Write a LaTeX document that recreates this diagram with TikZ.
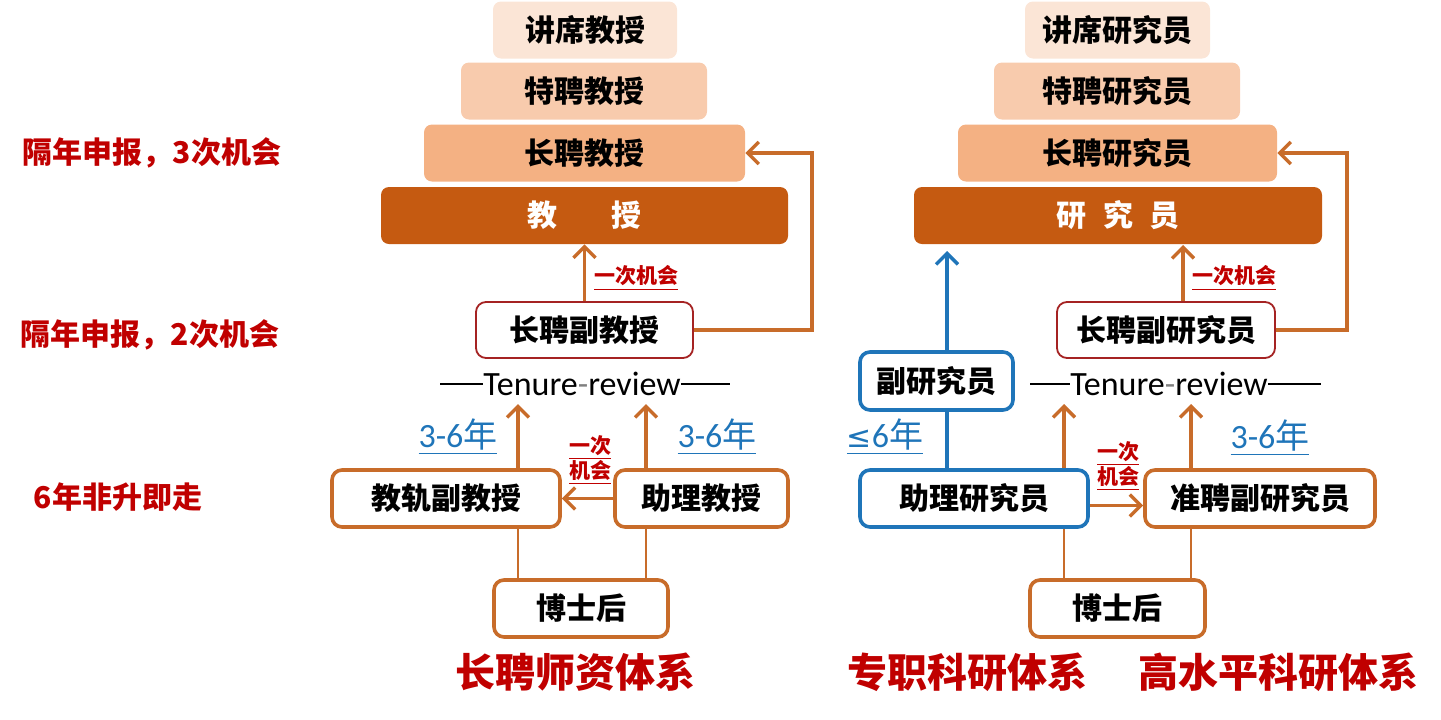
\documentclass[tikz,border=0pt]{standalone}
\usepackage{fontspec}
\setmainfont{Carlito}
\newfontfamily\cjk{Noto Sans CJK SC}
\newfontfamily\symb{DejaVu Sans}
\usetikzlibrary{arrows.meta}
\definecolor{rust}{RGB}{197,90,17}
\definecolor{ochre}{RGB}{200,108,42}
\definecolor{peach1}{RGB}{251,229,214}
\definecolor{peach2}{RGB}{248,203,173}
\definecolor{peach3}{RGB}{244,177,131}
\definecolor{redtxt}{RGB}{192,0,0}
\definecolor{bluetxt}{RGB}{31,117,185}
\definecolor{tenred}{RGB}{165,35,35}
\tikzset{
    every node/.style={inner sep=0pt, font=\cjk\bfseries\fontsize{15pt}{18pt}\selectfont}
}
\tikzset{
    tier/.style={rounded corners=4pt, minimum height=28.5pt},
    post/.style={draw=ochre, line width=1.8pt, rounded corners=5pt, fill=white,
    	minimum height=28.5pt},
    bluepost/.style={post, draw=bluetxt},
    tenured/.style={draw=tenred, line width=0.9pt, rounded corners=5pt, minimum height=28pt},
    note/.style={text=redtxt},
    small/.style={text=redtxt, align=center,
    	font=\cjk\bfseries\fontsize{10.5pt}{12pt}\selectfont},
    years/.style={text=bluetxt, font=\fontsize{17pt}{20pt}\selectfont},
    title/.style={text=redtxt, font=\cjk\bfseries\fontsize{20pt}{24pt}\selectfont},
    review/.style={font=\fontsize{17pt}{20pt}\selectfont}
}
\tikzset{
    link/.style={draw=ochre, line width=1.7pt},
    every edge/.append style={link},
    arr/.style={-{Straight Barb[length=5.5pt,width=11pt]}}
}

\begin{document}
\begin{tikzpicture}[x=0.5pt,y=-0.5pt]
	\useasboundingbox (0,0) rectangle (1441,719);

	% left column labels
	\node (n3) [note] at (152,153) {隔年申报，3次机会};
	\node (n2) [note] at (150,335) {隔年申报，2次机会};
	\node (n6) [note] at (118,497) {6年非升即走};

	% faculty track
	\node (jxjs) [tier, fill=peach1, minimum width=92pt] at (585,30) {讲席教授};
	\node (tpjs) [tier, fill=peach2, minimum width=123pt] at (584,91) {特聘教授};
	\node (cpjs) [tier, fill=peach3, minimum width=160.5pt] at (584.5,153) {长聘教授};
	\node (js) [tier, fill=rust, text=white, minimum width=203.5pt] at (584.5,215.5) {教\hspace{1.8em}授};
	\node (cpfjs) [tenured, minimum width=108.5pt] at (584.5,330) {长聘副教授};
	\node (tr1) [review] at (582,384) {Tenure{\color{gray}-}review};
	\node (jgfjs) [post, minimum width=114pt] at (446,498.5) {教轨副教授};
	\node (zljs) [post, minimum width=86.5pt] at (701.5,498.5) {助理教授};
	\node (bsh1) [post, minimum width=87pt] at (581,608.5) {博士后};
	\node (ttl1) [title] at (575,672) {长聘师资体系};

	\node (op1) [small] at (636,278) {\underline{一次机会}};
	\node (op2) [small] at (590,460) {\underline{一次}\\[-1pt]\underline{机会}};
	\node (y1) [years] at (458,437) {\underline{3-6{\cjk 年}}};
	\node (y2) [years] at (717,437) {\underline{3-6{\cjk 年}}};

	\coordinate (tr1a) at (440,384);
	\coordinate (tr1b) at (730,384);
	\coordinate (t1) at (518,404);
	\coordinate (t2) at (646,404);
	\coordinate (c1) at (812,153);

	\draw[line width=0.8pt] (tr1a) -- (tr1.west) (tr1.east) -- (tr1b);
	\draw (cpfjs) edge[arr] (js);
	\draw[link, arr] (cpfjs.east) -| (c1) -- (cpjs.east);
	\draw (jgfjs.north -| t1) edge[arr] (t1); \draw (zljs.north -| t2) edge[arr] (t2);
	\draw (zljs) edge[arr] (jgfjs);
	\draw (bsh1.north -| t1) edge[line width=1.3pt] (jgfjs.south -| t1);
	\draw (bsh1.north -| t2) edge[line width=1.3pt] (zljs.south -| t2);

	% research track
	\node (jxyjy) [tier, fill=peach1, minimum width=92.5pt] at (1117.5,30) {讲席研究员};
	\node (tpyjy) [tier, fill=peach2, minimum width=123pt] at (1117,91) {特聘研究员};
	\node (cpyjy) [tier, fill=peach3, minimum width=159.5pt] at (1117.5,153) {长聘研究员};
	\node (yjy) [tier, fill=rust, text=white, minimum width=204pt] at (1118,215.5) {研\hspace{0.55em}究\hspace{0.55em}员};
	\node (fyjy) [bluepost, minimum width=76.5pt, minimum height=29pt] at (936.5,381) {副研究员};
	\node (cpfyjy) [tenured, minimum width=109pt] at (1166,330) {长聘副研究员};
	\node (tr2) [review] at (1169,384) {Tenure{\color{gray}-}review};
	\node (zlyjy) [bluepost, minimum width=114pt] at (974,498.5) {助理研究员};
	\node (zpfyjy) [post, minimum width=115pt] at (1260,498.5) {准聘副研究员};
	\node (bsh2) [post, minimum width=87.5pt] at (1117.5,608.5) {博士后};
	\node (ttl2) [title] at (967,672) {专职科研体系};
	\node (ttl3) [title] at (1278,672) {高水平科研体系};

	\node (op3) [small] at (1234,278) {\underline{一次机会}};
	\node (op4) [small] at (1118,466) {\underline{一次}\\[-1pt]\underline{机会}};
	\node (y3) [years] at (885,437) {\underline{{\symb\fontsize{15pt}{18pt}\selectfont ≤}6{\cjk 年}}};
	\node (y4) [years] at (1270,438) {\underline{3-6{\cjk 年}}};

	\coordinate (tr2a) at (1030,384);
	\coordinate (tr2b) at (1321,384);
	\coordinate (b1) at (947,251);
	\coordinate (t3) at (1064,404);
	\coordinate (t4) at (1191,404);
	\coordinate (t5) at (1183,245);
	\coordinate (c2) at (1347,153);

	\draw[line width=0.8pt] (tr2a) -- (tr2.west) (tr2.east) -- (tr2b);
	\draw[link, draw=bluetxt, arr] (fyjy.north -| b1) -- (b1);
	\draw[link, draw=bluetxt] (zlyjy.north -| b1) -- (fyjy.south -| b1);
	\draw[link, arr] (cpfyjy.north -| t5) -- (t5);
	\draw[link, arr] (cpfyjy.east) -| (c2) -- (cpyjy.east);
	\draw (zlyjy.north -| t3) edge[arr] (t3); \draw (zpfyjy.north -| t4) edge[arr] (t4);
	\draw ([yshift=-3.5pt]zlyjy.east) edge[arr] ([yshift=-3.5pt]zpfyjy.west);
	\draw (bsh2.north -| t3) edge[line width=1.3pt] (zlyjy.south -| t3);
	\draw (bsh2.north -| t4) edge[line width=1.3pt] (zpfyjy.south -| t4);
\end{tikzpicture}
\end{document}
